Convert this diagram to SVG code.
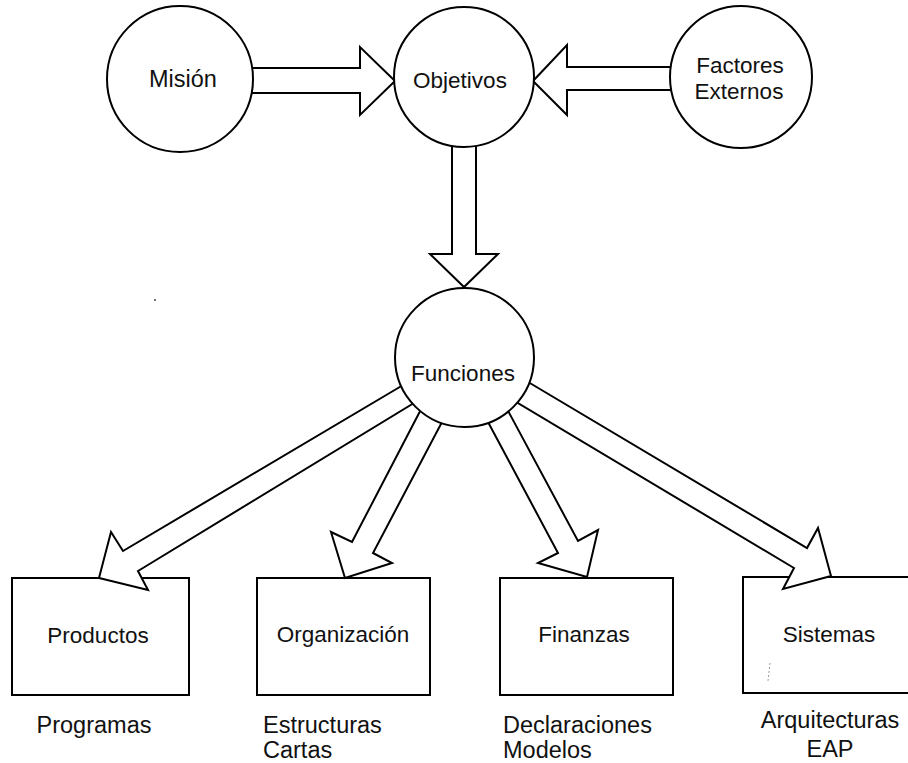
<svg xmlns="http://www.w3.org/2000/svg" width="908" height="763" viewBox="0 0 908 763">
  <style>
    .shape { fill: #fff; stroke: #000; stroke-width: 2; stroke-linejoin: miter; }
    .arrow { fill: #fff; stroke: #000; stroke-width: 2; stroke-linejoin: miter; }
    .lbl { font-family: "Liberation Sans", Arial, sans-serif; font-size: 22.5px; fill: #111; }
    .mid { text-anchor: middle; }
    .note { font-family: "Liberation Sans", Arial, sans-serif; font-size: 23.5px; fill: #111; }
  </style>
  <rect width="908" height="763" fill="#fff"/>

  <!-- bottom boxes (drawn first so the arrowheads sit over their top edges) -->
  <g id="productos">
    <rect class="shape" x="12" y="578" width="177" height="117"/>
    <text class="lbl mid" x="98" y="643">Productos</text>
    <text class="note mid" x="94" y="733">Programas</text>
  </g>
  <g id="organizacion">
    <rect class="shape" x="257" y="578" width="173" height="117"/>
    <text class="lbl mid" x="343" y="642">Organización</text>
    <text class="note" x="263" y="733">Estructuras</text>
    <text class="note" x="263" y="758">Cartas</text>
  </g>
  <g id="finanzas">
    <rect class="shape" x="500" y="578" width="173" height="117"/>
    <text class="lbl mid" x="584" y="642">Finanzas</text>
    <text class="note" x="503" y="733">Declaraciones</text>
    <text class="note" x="503" y="758">Modelos</text>
  </g>
  <g id="sistemas">
    <rect class="shape" x="743" y="577" width="175" height="116"/>
    <line x1="770" y1="663" x2="768" y2="681" stroke="#999" stroke-width="1" stroke-dasharray="2 2"/>
    <text class="lbl mid" x="829" y="642">Sistemas</text>
    <text class="note mid" x="830" y="728">Arquitecturas</text>
    <text class="note mid" x="830" y="757">EAP</text>
  </g>

  <!-- block arrows -->
  <g id="connectors">
    <polygon class="arrow" points="240,68 360,68 360,47 395,81 360,115 360,93 240,93"/>
    <polygon class="arrow" points="533,81 567,45 567,67 690,67 690,90 567,90 567,115"/>
    <polygon class="arrow" points="452,130 476,130 476,254 498,254 464,287 430,254 452,254"/>
    <polygon class="arrow" points="420,375 123,551 111,532 99,578 148,590 138,571 432,392"/>
    <polygon class="arrow" points="429,394 352,542 331,532 345,578 392,563 373,553 451,405"/>
    <polygon class="arrow" points="480,407 558,553 538,563 587,577 598,530 578,541 499,394"/>
    <polygon class="arrow" points="513,373 807,548 818,528 831,576 783,589 794,568 501,393"/>
  </g>

  <!-- circular nodes -->
  <g id="mision">
    <circle class="shape" cx="180" cy="79" r="73"/>
    <text class="lbl mid" x="183" y="87" style="font-size:23.5px">Misión</text>
  </g>
  <g id="objetivos">
    <circle class="shape" cx="464" cy="77" r="70"/>
    <text class="lbl mid" x="460" y="88">Objetivos</text>
  </g>
  <g id="factores">
    <circle class="shape" cx="741" cy="77" r="71"/>
    <text class="lbl mid" x="740" y="73">Factores</text>
    <text class="lbl mid" x="739" y="99">Externos</text>
  </g>
  <g id="funciones">
    <circle class="shape" cx="464.5" cy="357.5" r="69.5"/>
    <text class="lbl mid" x="463" y="381">Funciones</text>
  </g>

  <circle cx="155" cy="300" r="1" fill="#444"/>
</svg>
